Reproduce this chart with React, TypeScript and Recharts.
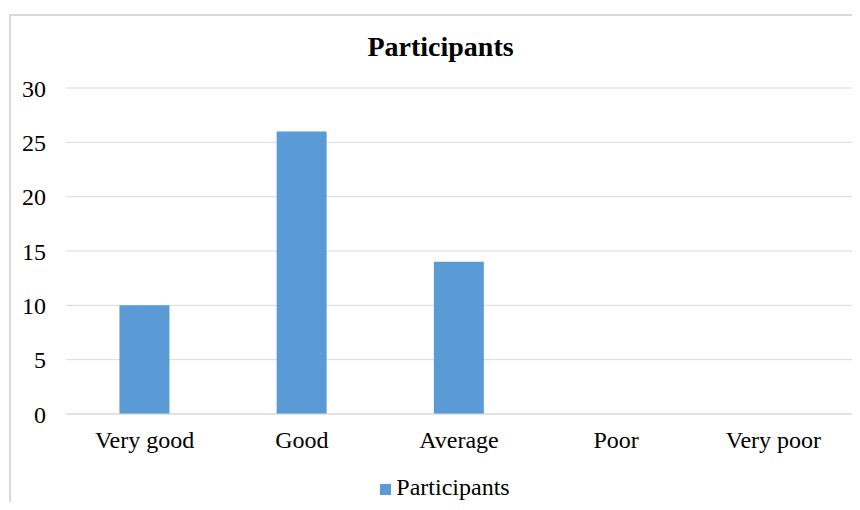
import React from "react";
import { BarChart, Bar, XAxis, YAxis, CartesianGrid, Legend } from "recharts";

const categories = ["Very good", "Good", "Average", "Poor", "Very poor"];
const participants = [10, 26, 14, 0, 0];
const yTicks = [0, 5, 10, 15, 20, 25, 30];

const data = categories.map((name, i) => ({ name, Participants: participants[i] }));

const FONT = '"Liberation Serif", "Times New Roman", serif';
const BAR_COLOR = "#5B9BD5";
const GRID_COLOR = "#D9D9D9";

export default function App() {
  return (
    <div style={{ position: "relative", width: 860, height: 510, margin: -8, overflow: "hidden", background: "#fff" }}>
      <div
        style={{
          position: "absolute",
          left: 9,
          top: 14,
          width: 900,
          height: 600,
          border: "2px solid #D9D9D9",
          boxSizing: "border-box",
        }}
      />
      <div
        style={{
          position: "absolute",
          left: 0,
          top: 31,
          width: 881,
          textAlign: "center",
          fontFamily: FONT,
          fontWeight: "bold",
          fontSize: 28,
          color: "#000",
        }}
      >
        Participants
      </div>
      <div style={{ position: "absolute", left: 0, top: 0 }}>
        <BarChart
          width={860}
          height={510}
          data={data}
          margin={{ top: 88, right: 8, left: 0, bottom: 0 }}
          barCategoryGap="34%"
        >
          <CartesianGrid vertical={false} stroke={GRID_COLOR} strokeWidth={1} />
          <XAxis
            dataKey="name"
            height={50}
            tickLine={false}
            axisLine={{ stroke: GRID_COLOR }}
            tickSize={0}
            tickMargin={17}
            tick={{ fill: "#000", fontSize: 24, fontFamily: FONT }}
          />
          <YAxis
            width={66}
            domain={[0, 30]}
            ticks={yTicks}
            tickLine={false}
            axisLine={false}
            tickSize={0}
            tickMargin={20}
            tick={{ fill: "#000", fontSize: 24, fontFamily: FONT }}
          />
          <Legend
            verticalAlign="bottom"
            align="center"
            height={36}
            iconType="square"
            iconSize={11}
            wrapperStyle={{ fontFamily: FONT, fontSize: 24, color: "#000", paddingTop: 10, paddingLeft: 24 }}
            formatter={(value) => <span style={{ color: "#000", marginLeft: 1 }}>{value}</span>}
          />
          <Bar dataKey="Participants" fill={BAR_COLOR} isAnimationActive={false} />
        </BarChart>
      </div>
    </div>
  );
}
